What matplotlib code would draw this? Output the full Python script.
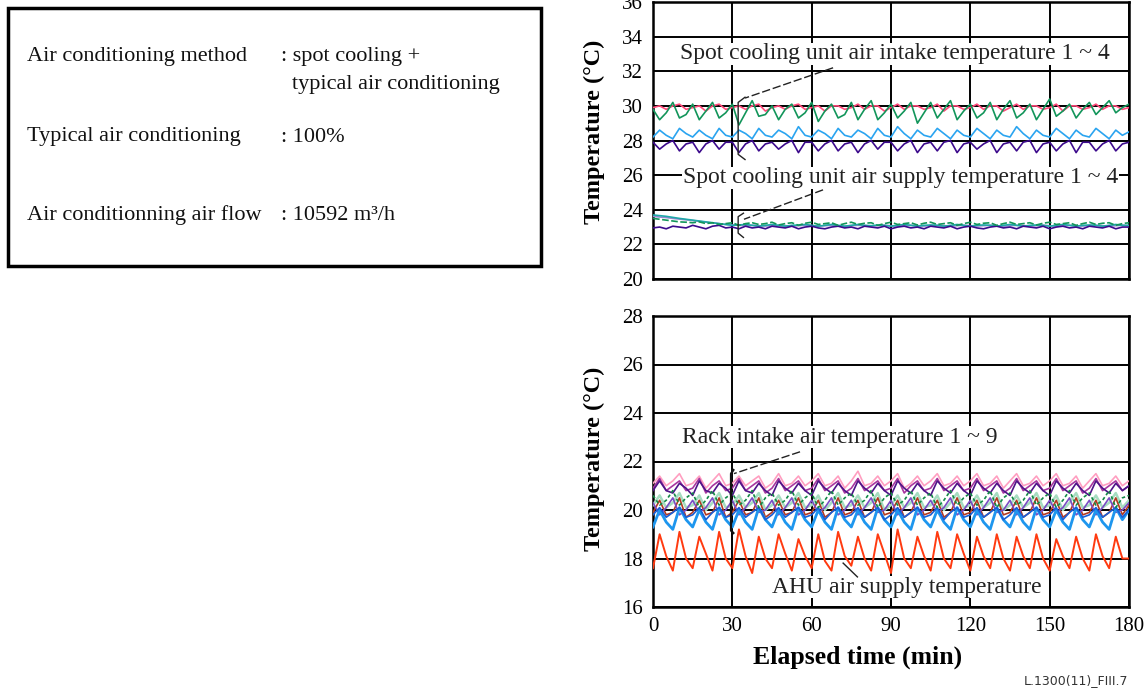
import numpy as np
import matplotlib
matplotlib.use("Agg")
import matplotlib.pyplot as plt
from matplotlib.patches import Rectangle

plt.rcParams['font.family'] = ['Liberation Serif', 'DejaVu Serif']

# ---------------- data ----------------
time = np.arange(0, 180.1, 2.5)   # sample times (min)

# top panel: spot cooling unit air intake temperatures
intake_pink = [29.9, 30.0, 29.8, 30.0, 30.1, 29.8, 29.9, 30.0, 29.7, 30.0, 30.1, 29.8,
               29.9, 30.0, 29.8, 30.0, 30.1, 29.7, 29.9, 30.0, 29.8, 30.0, 30.1, 29.8,
               29.9, 30.0, 29.7, 30.0, 30.0, 29.8, 29.9, 30.1, 29.8, 30.0, 30.0, 29.7,
               29.9, 30.1, 29.8, 30.0, 30.0, 29.8, 29.9, 30.1, 29.7, 30.0, 30.0, 29.8,
               29.9, 30.1, 29.8, 30.0, 30.0, 29.7, 29.9, 30.1, 29.8, 30.0, 30.0, 29.8,
               29.9, 30.1, 29.7, 30.0, 30.0, 29.8, 29.9, 30.1, 29.8, 30.0, 30.0, 29.8, 29.9]
intake_green = [29.8, 29.2, 29.6, 30.2, 29.3, 29.5, 30.1, 29.2, 29.7, 30.2, 29.3, 29.6,
                30.1, 28.9, 29.6, 30.3, 29.4, 29.5, 30.0, 29.2, 29.8, 30.1, 29.3, 29.6,
                30.2, 29.1, 29.7, 30.1, 29.3, 29.5, 30.2, 29.2, 29.8, 30.3, 29.2, 29.6,
                30.1, 29.3, 29.7, 30.2, 29.0, 29.6, 30.2, 29.3, 29.8, 30.3, 29.2, 29.7,
                30.1, 29.3, 29.6, 30.2, 29.2, 29.8, 30.3, 29.3, 29.6, 30.1, 29.2, 29.8,
                30.4, 29.4, 29.7, 30.1, 29.3, 29.8, 30.2, 29.5, 29.9, 30.3, 29.6, 29.9, 30.1]
intake_blue = [28.2, 28.6, 28.3, 28.1, 28.7, 28.4, 28.2, 28.6, 28.3, 28.1, 28.7, 28.3,
               28.2, 28.6, 28.4, 28.1, 28.7, 28.3, 28.2, 28.6, 28.4, 28.1, 28.8, 28.3,
               28.2, 28.6, 28.4, 28.1, 28.7, 28.3, 28.2, 28.6, 28.4, 28.1, 28.7, 28.3,
               28.2, 28.8, 28.4, 28.1, 28.6, 28.3, 28.2, 28.7, 28.4, 28.1, 28.6, 28.3,
               28.2, 28.7, 28.4, 28.1, 28.6, 28.3, 28.2, 28.8, 28.4, 28.1, 28.6, 28.3,
               28.2, 28.7, 28.4, 28.1, 28.6, 28.3, 28.2, 28.7, 28.4, 28.1, 28.6, 28.3, 28.5]
intake_purple = [27.9, 27.5, 27.8, 28.0, 27.4, 27.8, 27.9, 27.3, 27.8, 28.0, 27.5, 27.9,
                 27.9, 27.3, 27.8, 28.0, 27.4, 27.8, 27.9, 27.5, 27.8, 28.0, 27.3, 27.9,
                 27.9, 27.4, 27.8, 28.0, 27.4, 27.8, 27.9, 27.3, 27.8, 28.0, 27.5, 27.9,
                 27.9, 27.4, 27.8, 28.0, 27.3, 27.8, 27.9, 27.4, 27.9, 28.0, 27.3, 27.8,
                 27.9, 27.5, 27.8, 28.0, 27.3, 27.8, 27.9, 27.4, 27.9, 28.0, 27.3, 27.8,
                 27.9, 27.4, 27.8, 28.0, 27.3, 27.9, 27.9, 27.4, 27.8, 28.0, 27.4, 27.8, 27.9]

# top panel: spot cooling unit air supply temperatures
supply_cyan = [23.70, 23.66, 23.62, 23.56, 23.50, 23.45, 23.40, 23.35, 23.30, 23.25, 23.20, 23.15,
               23.10, 23.12, 23.15, 23.10, 23.05, 23.10, 23.15, 23.10, 23.05, 23.10, 23.12, 23.15,
               23.10, 23.05, 23.10, 23.15, 23.10, 23.05, 23.10, 23.15, 23.10, 23.08, 23.12, 23.10,
               23.05, 23.10, 23.15, 23.10, 23.05, 23.10, 23.12, 23.10, 23.05, 23.10, 23.15, 23.10,
               23.05, 23.10, 23.12, 23.10, 23.05, 23.10, 23.15, 23.10, 23.05, 23.10, 23.12, 23.10,
               23.05, 23.10, 23.15, 23.10, 23.05, 23.10, 23.12, 23.10, 23.05, 23.10, 23.15, 23.10, 23.10]
supply_lavender = [23.62, 23.58, 23.55, 23.50, 23.46, 23.42, 23.38, 23.33, 23.28, 23.24, 23.20, 23.15,
                   23.12, 23.10, 23.08, 23.10, 23.08, 23.06, 23.08, 23.10, 23.08, 23.05, 23.08, 23.10,
                   23.08, 23.06, 23.08, 23.10, 23.08, 23.05, 23.08, 23.10, 23.08, 23.06, 23.08, 23.10,
                   23.08, 23.05, 23.08, 23.10, 23.08, 23.06, 23.08, 23.10, 23.08, 23.05, 23.08, 23.10,
                   23.08, 23.06, 23.08, 23.10, 23.08, 23.05, 23.08, 23.10, 23.08, 23.06, 23.08, 23.10,
                   23.08, 23.05, 23.08, 23.10, 23.08, 23.06, 23.08, 23.10, 23.08, 23.05, 23.08, 23.10, 23.08]
supply_indigo = [22.95, 23.00, 22.90, 23.05, 23.00, 22.95, 23.10, 23.00, 22.90, 23.05, 23.10, 22.95,
                 23.00, 22.90, 23.05, 22.95, 23.00, 22.90, 23.05, 23.00, 22.95, 23.05, 22.90, 23.00,
                 23.05, 22.95, 22.90, 23.00, 23.05, 22.95, 23.00, 22.90, 23.05, 23.00, 22.95, 23.05,
                 22.90, 23.00, 23.05, 22.95, 23.00, 22.90, 23.05, 23.00, 22.95, 23.05, 22.90, 23.00,
                 23.05, 22.95, 22.90, 23.00, 23.05, 22.95, 23.00, 22.90, 23.05, 23.00, 22.95, 23.05,
                 22.90, 23.00, 23.05, 22.95, 23.00, 22.90, 23.05, 23.00, 22.95, 23.05, 22.90, 23.00, 23.00]
supply_green = [23.50, 23.45, 23.40, 23.35, 23.30, 23.28, 23.25, 23.30, 23.20, 23.25, 23.15, 23.20,
                23.25, 23.10, 23.20, 23.25, 23.15, 23.20, 23.28, 23.12, 23.20, 23.25, 23.10, 23.22,
                23.28, 23.15, 23.20, 23.25, 23.10, 23.20, 23.28, 23.15, 23.22, 23.25, 23.10, 23.20,
                23.28, 23.15, 23.20, 23.25, 23.12, 23.22, 23.28, 23.15, 23.20, 23.25, 23.10, 23.20,
                23.28, 23.15, 23.22, 23.25, 23.10, 23.20, 23.28, 23.15, 23.20, 23.25, 23.12, 23.22,
                23.28, 23.15, 23.20, 23.25, 23.10, 23.20, 23.28, 23.15, 23.22, 23.25, 23.10, 23.20, 23.25]

# bottom panel: rack intake air temperatures 1-9
rack_pink = [21.1, 21.4, 21.0, 21.2, 21.5, 21.0, 21.1, 21.4, 20.9, 21.2, 21.5, 21.0,
             21.1, 21.4, 21.0, 21.2, 21.4, 20.9, 21.1, 21.5, 21.0, 21.1, 21.4, 21.0,
             21.2, 21.5, 21.0, 21.1, 21.4, 20.9, 21.2, 21.6, 21.0, 21.1, 21.4, 21.0,
             21.2, 21.5, 20.9, 21.1, 21.4, 21.0, 21.2, 21.5, 21.0, 21.1, 21.4, 21.0,
             21.2, 21.5, 21.0, 21.1, 21.4, 20.9, 21.2, 21.5, 21.0, 21.1, 21.4, 21.0,
             21.2, 21.5, 21.0, 21.1, 21.4, 20.9, 21.2, 21.5, 21.0, 21.1, 21.4, 21.0, 21.2]
rack_magenta = [20.9, 21.3, 20.8, 21.0, 21.2, 20.8, 20.9, 21.3, 20.7, 21.0, 21.2, 20.8,
                20.9, 21.3, 20.8, 21.0, 21.2, 20.7, 20.9, 21.3, 20.8, 21.0, 21.2, 20.8,
                20.9, 21.3, 20.8, 21.0, 21.2, 20.7, 20.9, 21.3, 20.8, 21.0, 21.2, 20.8,
                20.9, 21.3, 20.7, 21.0, 21.2, 20.8, 20.9, 21.3, 20.8, 21.0, 21.2, 20.8,
                20.9, 21.3, 20.8, 21.0, 21.2, 20.7, 20.9, 21.3, 20.8, 21.0, 21.2, 20.8,
                20.9, 21.3, 20.8, 21.0, 21.2, 20.7, 20.9, 21.3, 20.8, 21.0, 21.2, 20.8, 21.0]
rack_indigo = [20.8, 21.2, 20.8, 20.7, 21.1, 20.9, 20.6, 21.2, 20.8, 20.7, 21.1, 20.9,
               20.6, 21.2, 20.8, 20.7, 21.1, 20.8, 20.6, 21.2, 20.9, 20.7, 21.1, 20.8,
               20.6, 21.2, 20.9, 20.7, 21.1, 20.8, 20.6, 21.2, 20.9, 20.7, 21.1, 20.8,
               20.6, 21.2, 20.9, 20.7, 21.1, 20.8, 20.6, 21.2, 20.9, 20.7, 21.1, 20.8,
               20.6, 21.2, 20.9, 20.7, 21.1, 20.8, 20.6, 21.2, 20.9, 20.7, 21.1, 20.8,
               20.6, 21.2, 20.9, 20.7, 21.1, 20.8, 20.6, 21.2, 20.9, 20.7, 21.1, 20.8, 21.0]
rack_lightgreen = [20.2, 20.6, 20.1, 20.3, 20.7, 20.1, 20.2, 20.6, 20.0, 20.3, 20.7, 20.1,
                   20.2, 20.6, 20.1, 20.3, 20.7, 20.0, 20.2, 20.6, 20.1, 20.3, 20.7, 20.1,
                   20.2, 20.6, 20.0, 20.3, 20.7, 20.1, 20.2, 20.6, 20.1, 20.3, 20.7, 20.0,
                   20.2, 20.6, 20.1, 20.3, 20.7, 20.1, 20.2, 20.6, 20.0, 20.3, 20.7, 20.1,
                   20.2, 20.6, 20.1, 20.3, 20.7, 20.0, 20.2, 20.6, 20.1, 20.3, 20.7, 20.1,
                   20.2, 20.6, 20.0, 20.3, 20.7, 20.1, 20.2, 20.6, 20.1, 20.3, 20.7, 20.1, 20.4]
rack_green = [20.6, 20.2, 20.4, 20.8, 20.2, 20.5, 20.7, 20.1, 20.4, 20.8, 20.2, 20.5,
              20.7, 20.2, 20.4, 20.8, 20.1, 20.5, 20.7, 20.2, 20.4, 20.8, 20.2, 20.5,
              20.7, 20.1, 20.4, 20.8, 20.2, 20.5, 20.7, 20.2, 20.4, 20.8, 20.1, 20.5,
              20.7, 20.2, 20.4, 20.8, 20.2, 20.5, 20.7, 20.1, 20.4, 20.8, 20.2, 20.5,
              20.7, 20.2, 20.4, 20.8, 20.1, 20.5, 20.7, 20.2, 20.4, 20.8, 20.2, 20.5,
              20.7, 20.1, 20.4, 20.8, 20.2, 20.5, 20.7, 20.2, 20.4, 20.8, 20.1, 20.5, 20.6]
rack_brown = [19.9, 20.4, 19.8, 19.9, 20.5, 19.7, 19.9, 20.4, 19.8, 19.9, 20.5, 19.7,
              19.9, 20.4, 19.8, 19.9, 20.5, 19.7, 19.9, 20.4, 19.8, 19.9, 20.5, 19.8,
              19.9, 20.4, 19.7, 19.9, 20.5, 19.8, 19.9, 20.4, 19.7, 19.9, 20.5, 19.8,
              19.9, 20.4, 19.7, 19.9, 20.5, 19.8, 19.9, 20.4, 19.7, 19.9, 20.5, 19.8,
              19.9, 20.4, 19.7, 19.9, 20.5, 19.8, 19.9, 20.4, 19.7, 19.9, 20.5, 19.8,
              19.9, 20.4, 19.7, 19.9, 20.5, 19.8, 19.9, 20.4, 19.7, 19.9, 20.5, 19.8, 20.2]
rack_violet = [20.3, 19.8, 20.1, 20.5, 19.8, 20.0, 20.4, 19.9, 20.1, 20.5, 19.8, 20.0,
               20.4, 19.8, 20.1, 20.5, 19.9, 20.0, 20.4, 19.8, 20.1, 20.5, 19.8, 20.0,
               20.4, 19.9, 20.1, 20.5, 19.8, 20.0, 20.4, 19.8, 20.1, 20.5, 19.9, 20.0,
               20.4, 19.8, 20.1, 20.5, 19.8, 20.0, 20.4, 19.9, 20.1, 20.5, 19.8, 20.0,
               20.4, 19.8, 20.1, 20.5, 19.9, 20.0, 20.4, 19.8, 20.1, 20.5, 19.8, 20.0,
               20.4, 19.9, 20.1, 20.5, 19.8, 20.0, 20.4, 19.8, 20.1, 20.5, 19.9, 20.0, 20.3]
rack_blue = [19.3, 20.0, 19.5, 19.2, 20.1, 19.6, 19.3, 20.0, 19.5, 19.2, 20.1, 19.6,
             19.3, 20.0, 19.5, 19.2, 20.1, 19.6, 19.3, 20.0, 19.5, 19.2, 20.1, 19.6,
             19.3, 20.0, 19.5, 19.2, 20.1, 19.6, 19.3, 20.0, 19.5, 19.2, 20.1, 19.6,
             19.3, 20.0, 19.5, 19.2, 20.1, 19.6, 19.3, 20.0, 19.5, 19.2, 20.1, 19.6,
             19.3, 20.0, 19.5, 19.2, 20.1, 19.6, 19.3, 20.0, 19.5, 19.2, 20.1, 19.6,
             19.3, 20.0, 19.5, 19.2, 20.1, 19.6, 19.3, 20.0, 19.5, 19.2, 20.1, 19.6, 20.0]
rack_blue2 = [19.8, 20.1, 19.7, 19.9, 20.1, 19.7, 19.8, 20.1, 19.6, 19.9, 20.1, 19.7,
              19.8, 20.1, 19.7, 19.9, 20.1, 19.6, 19.8, 20.1, 19.7, 19.9, 20.1, 19.7,
              19.8, 20.1, 19.6, 19.9, 20.1, 19.7, 19.8, 20.1, 19.7, 19.9, 20.1, 19.6,
              19.8, 20.1, 19.7, 19.9, 20.1, 19.7, 19.8, 20.1, 19.6, 19.9, 20.1, 19.7,
              19.8, 20.1, 19.7, 19.9, 20.1, 19.6, 19.8, 20.1, 19.7, 19.9, 20.1, 19.7,
              19.8, 20.1, 19.6, 19.9, 20.1, 19.7, 19.8, 20.1, 19.7, 19.9, 20.1, 19.7, 20.0]

# bottom panel: AHU air supply temperature
ahu_supply = [17.6, 19.0, 18.1, 17.5, 19.1, 18.0, 17.6, 18.9, 18.2, 17.5, 19.1, 18.0,
              17.6, 19.2, 18.1, 17.4, 18.9, 18.0, 17.6, 19.0, 18.2, 17.5, 18.8, 18.1,
              17.6, 19.0, 17.9, 17.5, 19.1, 18.1, 17.7, 18.9, 18.0, 17.5, 19.0, 18.2,
              17.4, 19.2, 18.0, 17.6, 18.9, 18.1, 17.5, 19.1, 18.0, 17.6, 19.0, 18.2,
              17.5, 18.9, 18.1, 17.6, 19.0, 18.0, 17.5, 18.9, 18.1, 17.6, 19.0, 18.0,
              17.5, 18.8, 18.1, 17.6, 18.9, 18.0, 17.5, 19.0, 18.1, 17.6, 18.9, 18.0, 18.0]

x_ticks = [0, 30, 60, 90, 120, 150, 180]
top_yticks = [20, 22, 24, 26, 28, 30, 32, 34, 36]
bottom_yticks = [16, 18, 20, 22, 24, 26, 28]

box_left = ["Air conditioning method", "Typical air conditioning", "Air conditionning air flow"]
box_right = [": spot cooling +", ": 100%", ": 10592 m\u00b3/h"]

# ---------------- figure ----------------
W, H = 1147, 693
fig = plt.figure(figsize=(W / 100, H / 100), dpi=100)
fig.patch.set_facecolor("white")

ax1 = fig.add_axes([653 / W, 1 - 279 / H, 476 / W, 277 / H])
ax2 = fig.add_axes([653 / W, 1 - 607 / H, 476 / W, 291 / H])

for ax, yt in ((ax1, top_yticks), (ax2, bottom_yticks)):
    ax.set_xlim(0, 180)
    ax.set_ylim(yt[0], yt[-1])
    ax.set_xticks(x_ticks)
    ax.set_yticks(yt)
    ax.grid(True, color="black", linewidth=1.4)
    ax.set_axisbelow(True)
    for s in ax.spines.values():
        s.set_linewidth(1.8)
    ax.tick_params(length=0, labelsize=15, pad=7)

ax1.set_xticklabels([])

lw = 1.2
ax1.plot(time, intake_pink, color="#ff4a7a", lw=lw, zorder=3)
ax1.plot(time, intake_green, color="#12955a", lw=lw, zorder=4)
ax1.plot(time, intake_blue, color="#2aa4f0", lw=lw, zorder=3)
ax1.plot(time, intake_purple, color="#3c0a8c", lw=lw, zorder=3)
ax1.plot(time, supply_lavender, color="#9a86d0", lw=lw, zorder=3)
ax1.plot(time, supply_cyan, color="#1fa8a8", lw=lw, zorder=3)
ax1.plot(time, supply_indigo, color="#3c0a8c", lw=lw, zorder=3)
ax1.plot(time, supply_green, color="#12955a", lw=lw, ls=(0, (4, 1.5)), zorder=4)

ax2.plot(time, rack_pink, color="#ff9ec0", lw=lw, zorder=3)
ax2.plot(time, rack_magenta, color="#a8379f", lw=lw, zorder=3)
ax2.plot(time, rack_indigo, color="#4e1488", lw=lw, zorder=3)
ax2.plot(time, rack_lightgreen, color="#a6dcc0", lw=1.8, zorder=3)
ax2.plot(time, rack_green, color="#138a47", lw=lw, ls=(0, (2, 1.5)), zorder=4)
ax2.plot(time, rack_brown, color="#b23a22", lw=lw, zorder=3)
ax2.plot(time, rack_violet, color="#7a4cc4", lw=lw, zorder=3)
ax2.plot(time, rack_blue, color="#1e96ee", lw=2.0, zorder=3)
ax2.plot(time, rack_blue2, color="#1a5fd6", lw=lw, zorder=3)
ax2.plot(time, ahu_supply, color="#ff3a10", lw=1.4, zorder=3)

# annotations
tkw = dict(fontsize=17, color="#222222", va="center", ha="left", zorder=6,
           bbox=dict(facecolor="white", edgecolor="none", pad=0.5))
ax1.text(10.2, 33.0, "Spot cooling unit air intake temperature 1 ~ 4", **tkw)
ax1.text(11.3, 25.85, "Spot cooling unit air supply temperature 1 ~ 4", **tkw)
ax2.text(11.0, 23.0, "Rack intake air temperature 1 ~ 9", **tkw)
ax2.text(45.0, 16.82, "AHU air supply temperature", **tkw)

lkw = dict(color="#222222", lw=1.0, zorder=7)
ax1.plot([68.1, 34.8], [32.2, 30.45], ls=(0, (6, 2)), **lkw)
ax1.plot([34.8, 32.2, 32.2, 34.8], [30.5, 30.2, 27.2, 26.9], **lkw)
ax1.plot([64.3, 34.4], [25.15, 23.45], ls=(0, (6, 2)), **lkw)
ax1.plot([34.2, 32.2, 32.2, 34.2], [23.8, 23.6, 22.65, 22.4], **lkw)
ax2.plot([55.6, 30.6], [22.4, 21.5], ls=(0, (6, 2)), **lkw)
ax2.plot([30.4, 29.5, 29.5, 30.4], [21.65, 21.5, 19.15, 19.05], color="#111111", lw=1.6, zorder=7)
ax2.plot([71.9, 77.3], [17.81, 17.24], **lkw)

# axis labels
fig.text(594 / W, 1 - 132 / H, "Temperature (°C)", rotation=90, fontsize=17.5,
         fontweight="bold", ha="center", va="center")
fig.text(594 / W, 1 - 459 / H, "Temperature (°C)", rotation=90, fontsize=17.5,
         fontweight="bold", ha="center", va="center")
fig.text(858 / W, 1 - 657 / H, "Elapsed time (min)", fontsize=18.5,
         fontweight="bold", ha="center", va="center")
fig.text(1128 / W, 1 - 681 / H, "L.1300(11)_FIII.7", fontsize=9, color="#333333",
         family="DejaVu Sans", ha="right", va="center")

# info box
fig.patches.append(Rectangle((8 / W, 1 - 266 / H), 533 / W, 258 / H, transform=fig.transFigure,
                             fill=False, edgecolor="black", linewidth=2.5))
bkw = dict(fontsize=16, color="#111111", ha="left", va="center")
fig.text(27 / W, 1 - 57 / H, box_left[0], **bkw)
fig.text(281 / W, 1 - 57 / H, box_right[0], **bkw)
fig.text(292 / W, 1 - 85 / H, "typical air conditioning", **bkw)
fig.text(27 / W, 1 - 137 / H, box_left[1], **bkw)
fig.text(281 / W, 1 - 137 / H, box_right[1], **bkw)
fig.text(27 / W, 1 - 215 / H, box_left[2], **bkw)
fig.text(281 / W, 1 - 215 / H, box_right[2], **bkw)

fig.savefig("out.png", dpi=100)
